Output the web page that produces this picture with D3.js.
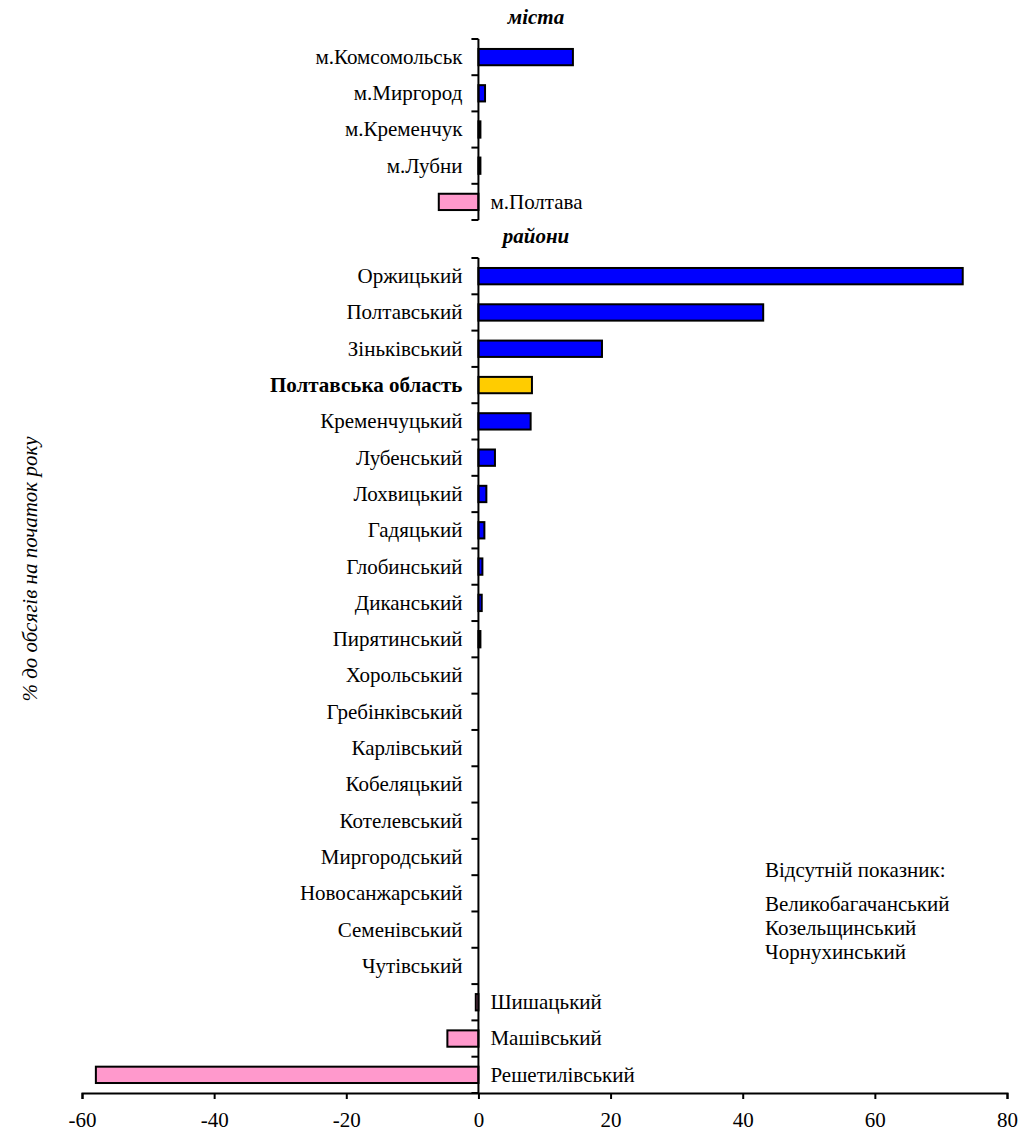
<!DOCTYPE html>
<html>
<head>
<meta charset="utf-8">
<script src="https://cdn.jsdelivr.net/npm/d3@7"></script>
<style>
  body { margin: 0; background: #fff; }
  svg text { font-family: "Liberation Serif", "Times New Roman", serif; fill: #000; }
</style>
</head>
<body>
<svg id="chart"></svg>
<script>
// cities block
const cities = ['м.Комсомольськ', 'м.Миргород', 'м.Кременчук', 'м.Лубни', 'м.Полтава'];
const cityValues = [14.3, 1.0, 0.3, 0.3, -6.0];

// districts block (region total is highlighted)
const districts = ['Оржицький', 'Полтавський', 'Зіньківський', 'Полтавська область', 'Кременчуцький',
  'Лубенський', 'Лохвицький', 'Гадяцький', 'Глобинський', 'Диканський', 'Пирятинський',
  'Хорольський', 'Гребінківський', 'Карлівський', 'Кобеляцький', 'Котелевський', 'Миргородський',
  'Новосанжарський', 'Семенівський', 'Чутівський', 'Шишацький', 'Машівський', 'Решетилівський'];
const districtValues = [73.3, 43.1, 18.7, 8.1, 7.9, 2.5, 1.2, 0.9, 0.6, 0.5, 0.3,
  0, 0, 0, 0, 0, 0, 0, 0, 0, -0.4, -4.7, -57.9];
const highlight = 'Полтавська область';

const xTicks = [-60, -40, -20, 0, 20, 40, 60, 80];
const missingTitle = 'Відсутній показник:';
const missing = ['Великобагачанський', 'Козельщинський', 'Чорнухинський'];
const yTitle = '% до обсягів на початок року';

const width = 1018, height = 1134;
const font = '"Liberation Serif", "Times New Roman", serif';
const svg = d3.select('#chart').attr('width', width).attr('height', height);

const x = d3.scaleLinear().domain([-60, 80]).range([82, 1007]);
const x0 = x(0);

const fillFor = (name, v) => name === highlight ? '#ffcc00' : (v < 0 ? '#ff99cc' : '#0000ff');

function block(names, values, top, bottom, title) {
  const y = d3.scaleBand().domain(names).range([top, bottom]).padding(0);
  const g = svg.append('g');
  const barH = y.bandwidth() * 0.45;

  g.selectAll('rect')
    .data(names)
    .join('rect')
    .attr('x', (d, i) => x(Math.min(0, values[i])))
    .attr('width', (d, i) => Math.abs(x(values[i]) - x0))
    .attr('y', d => y(d) + (y.bandwidth() - barH) / 2)
    .attr('height', barH)
    .attr('fill', (d, i) => fillFor(d, values[i]))
    .attr('stroke', '#000')
    .attr('stroke-width', 2);

  // category axis line at zero with ticks between rows
  g.append('line')
    .attr('x1', x0).attr('x2', x0)
    .attr('y1', top).attr('y2', bottom)
    .attr('stroke', '#000').attr('stroke-width', 2);
  const bounds = names.map(d => y(d)).concat([bottom]);
  g.selectAll('line.tick')
    .data(bounds)
    .join('line')
    .attr('class', 'tick')
    .attr('x1', x0 - 7).attr('x2', x0)
    .attr('y1', d => d).attr('y2', d => d)
    .attr('stroke', '#000').attr('stroke-width', 2);

  g.selectAll('text.lab')
    .data(names)
    .join('text')
    .attr('class', 'lab')
    .attr('x', (d, i) => values[i] < 0 ? x0 + 12 : x0 - 16)
    .attr('y', d => y(d) + y.bandwidth() / 2)
    .attr('dy', '0.33em')
    .attr('text-anchor', (d, i) => values[i] < 0 ? 'start' : 'end')
    .style('font-size', '21px')
    .style('font-weight', d => d === highlight ? 'bold' : 'normal')
    .text(d => d);

  svg.append('text')
    .attr('x', 536).attr('y', top - 15)
    .attr('text-anchor', 'middle')
    .style('font-size', '21px')
    .style('font-weight', 'bold')
    .style('font-style', 'italic')
    .text(title);
}

block(cities, cityValues, 39, 220, 'міста');
block(districts, districtValues, 258, 1093, 'райони');

// value axis
const xAxis = svg.append('g')
  .attr('transform', `translate(0,1093)`)
  .call(d3.axisBottom(x).tickValues(xTicks).tickSize(6).tickPadding(13).tickFormat(d => String(d)));
xAxis.select('.domain').attr('stroke-width', 2);
xAxis.selectAll('.tick line').attr('stroke-width', 2);
xAxis.selectAll('.tick text')
  .style('font-family', font)
  .style('font-size', '21px');

svg.append('text')
  .attr('transform', 'translate(37,569) rotate(-90)')
  .attr('text-anchor', 'middle')
  .style('font-size', '21px')
  .style('font-style', 'italic')
  .text(yTitle);

svg.append('text')
  .attr('x', 765).attr('y', 877)
  .style('font-size', '21px')
  .text(missingTitle);
svg.selectAll('text.miss')
  .data(missing)
  .join('text')
  .attr('class', 'miss')
  .attr('x', 765)
  .attr('y', (d, i) => 911 + i * 24)
  .style('font-size', '21px')
  .text(d => d);
</script>
</body>
</html>
